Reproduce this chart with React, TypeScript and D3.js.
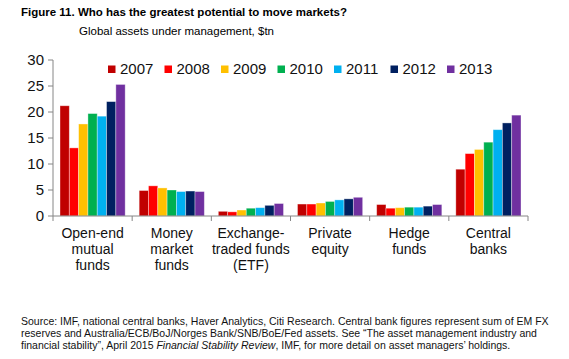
import React, { useEffect, useRef } from 'react';
import * as d3 from 'd3';

const categories = [
  ['Open-end', 'mutual', 'funds'],
  ['Money', 'market', 'funds'],
  ['Exchange-', 'traded funds', '(ETF)'],
  ['Private', 'equity'],
  ['Hedge', 'funds'],
  ['Central', 'banks'],
];
const years = ['2007', '2008', '2009', '2010', '2011', '2012', '2013'];
const colors = ['#C00000', '#FF0000', '#FFC000', '#00B050', '#00B0F0', '#002060', '#7030A0'];

// values per category, one per year
const openEnd = [21.2, 13.1, 17.7, 19.7, 19.2, 22.0, 25.3];
const moneyMarket = [4.9, 5.8, 5.4, 5.0, 4.7, 4.8, 4.7];
const etf = [0.9, 0.8, 1.15, 1.5, 1.6, 2.05, 2.4];
const privateEquity = [2.3, 2.3, 2.5, 2.8, 3.1, 3.3, 3.6];
const hedgeFunds = [2.2, 1.5, 1.6, 1.7, 1.7, 1.9, 2.2];
const centralBanks = [9.0, 12.0, 12.8, 14.2, 16.6, 17.9, 19.4];
const series = [openEnd, moneyMarket, etf, privateEquity, hedgeFunds, centralBanks];

const yTicks = [0, 5, 10, 15, 20, 25, 30];

const narrow = "'Liberation Sans Narrow', 'Arial Narrow', 'Liberation Sans', Arial, sans-serif";
const sans = "'Liberation Sans', Arial, sans-serif";

const App: React.FC = () => {
  const svgRef = useRef<SVGSVGElement>(null);

  useEffect(() => {
    if (!svgRef.current) return;
    const width = 569;
    const height = 359;
    const svg = d3.select(svgRef.current);
    svg.selectAll('*').remove();
    svg.attr('width', width).attr('height', height);

    const left = 53, right = 528, top = 60, bottom = 216;

    const x = d3.scaleBand<number>()
      .domain(d3.range(categories.length))
      .range([left, right])
      .paddingInner(0)
      .paddingOuter(0);
    const xInner = d3.scaleBand<number>()
      .domain(d3.range(years.length))
      .range([7, x.bandwidth() - 7])
      .padding(0);
    const y = d3.scaleLinear().domain([0, 30]).range([bottom, top]);

    // title
    svg.append('text')
      .attr('x', 21).attr('y', 16)
      .style('font-family', narrow).style('font-weight', 'bold').style('font-size', '11.5px')
      .text('Figure 11. Who has the greatest potential to move markets?');
    svg.append('text')
      .attr('x', 79).attr('y', 35)
      .style('font-family', narrow).style('font-size', '11.5px')
      .text('Global assets under management, $tn');

    // bars
    const groups = svg.append('g').selectAll('g')
      .data(series)
      .enter().append('g')
      .attr('transform', (d, i) => `translate(${x(i)},0)`);
    groups.selectAll('rect')
      .data(d => d)
      .enter().append('rect')
      .attr('x', (d, i) => xInner(i)!)
      .attr('width', xInner.bandwidth())
      .attr('y', d => y(d))
      .attr('height', d => bottom - y(d))
      .attr('fill', (d, i) => colors[i])
      .attr('stroke', 'rgba(255,255,255,0.45)')
      .attr('stroke-width', 0.8);

    // y axis
    const axisColor = '#868686';
    svg.append('line')
      .attr('x1', left).attr('x2', left).attr('y1', top).attr('y2', bottom)
      .attr('stroke', axisColor).attr('stroke-width', 1);
    const yt = svg.append('g').selectAll('g').data(yTicks).enter().append('g');
    yt.append('line')
      .attr('x1', left - 5).attr('x2', left)
      .attr('y1', d => y(d)).attr('y2', d => y(d))
      .attr('stroke', axisColor);
    yt.append('text')
      .attr('x', 44).attr('y', d => y(d)).attr('dy', '0.35em')
      .attr('text-anchor', 'end')
      .style('font-family', sans).style('font-size', '15px').style('fill', '#111')
      .text(d => d);

    // x axis
    svg.append('line')
      .attr('x1', left).attr('x2', right).attr('y1', bottom).attr('y2', bottom)
      .attr('stroke', axisColor).attr('stroke-width', 1);
    const xTickPos = d3.range(categories.length + 1).map(i => left + i * x.bandwidth());
    svg.append('g').selectAll('line').data(xTickPos).enter().append('line')
      .attr('x1', d => d).attr('x2', d => d)
      .attr('y1', bottom).attr('y2', bottom + 5)
      .attr('stroke', axisColor);

    const labels = svg.append('g').selectAll('text')
      .data(categories).enter().append('text')
      .attr('text-anchor', 'middle')
      .style('font-family', sans).style('font-size', '14px').style('fill', '#111');
    labels.each(function (lines, i) {
      const t = d3.select(this);
      lines.forEach((ln, j) => {
        t.append('tspan')
          .attr('x', x(i)! + x.bandwidth() / 2)
          .attr('y', 238 + j * 16)
          .text(ln);
      });
    });

    // legend
    const lg = svg.append('g').selectAll('g').data(years).enter().append('g')
      .attr('transform', (d, i) => `translate(${108 + i * 56.5},0)`);
    lg.append('rect')
      .attr('x', 0).attr('y', 65.5).attr('width', 7.5).attr('height', 7.5)
      .attr('fill', (d, i) => colors[i]);
    lg.append('text')
      .attr('x', 12).attr('y', 74)
      .style('font-family', sans).style('font-size', '15px').style('fill', '#111')
      .text(d => d);

    // footnote
    const fn = svg.append('g')
      .style('font-family', narrow).style('font-size', '10.5px').style('fill', '#111');
    fn.append('text').attr('x', 21).attr('y', 325)
      .text('Source: IMF, national central banks, Haver Analytics, Citi Research. Central bank figures represent sum of EM FX');
    fn.append('text').attr('x', 21).attr('y', 337)
      .text('reserves and Australia/ECB/BoJ/Norges Bank/SNB/BoE/Fed assets. See \u201CThe asset management industry and');
    const l3 = fn.append('text').attr('x', 21).attr('y', 349);
    l3.append('tspan').text('financial stability\u201D, April 2015 ');
    l3.append('tspan').style('font-style', 'italic').text('Financial Stability Review');
    l3.append('tspan').text(', IMF, for more detail on asset managers\u2019 holdings.');
  }, []);

  return (
    <div style={{ position: 'absolute', left: 0, top: 0, width: 569, height: 359, background: '#fff' }}>
      <svg ref={svgRef} style={{ display: 'block' }} />
    </div>
  );
};

export default App;
